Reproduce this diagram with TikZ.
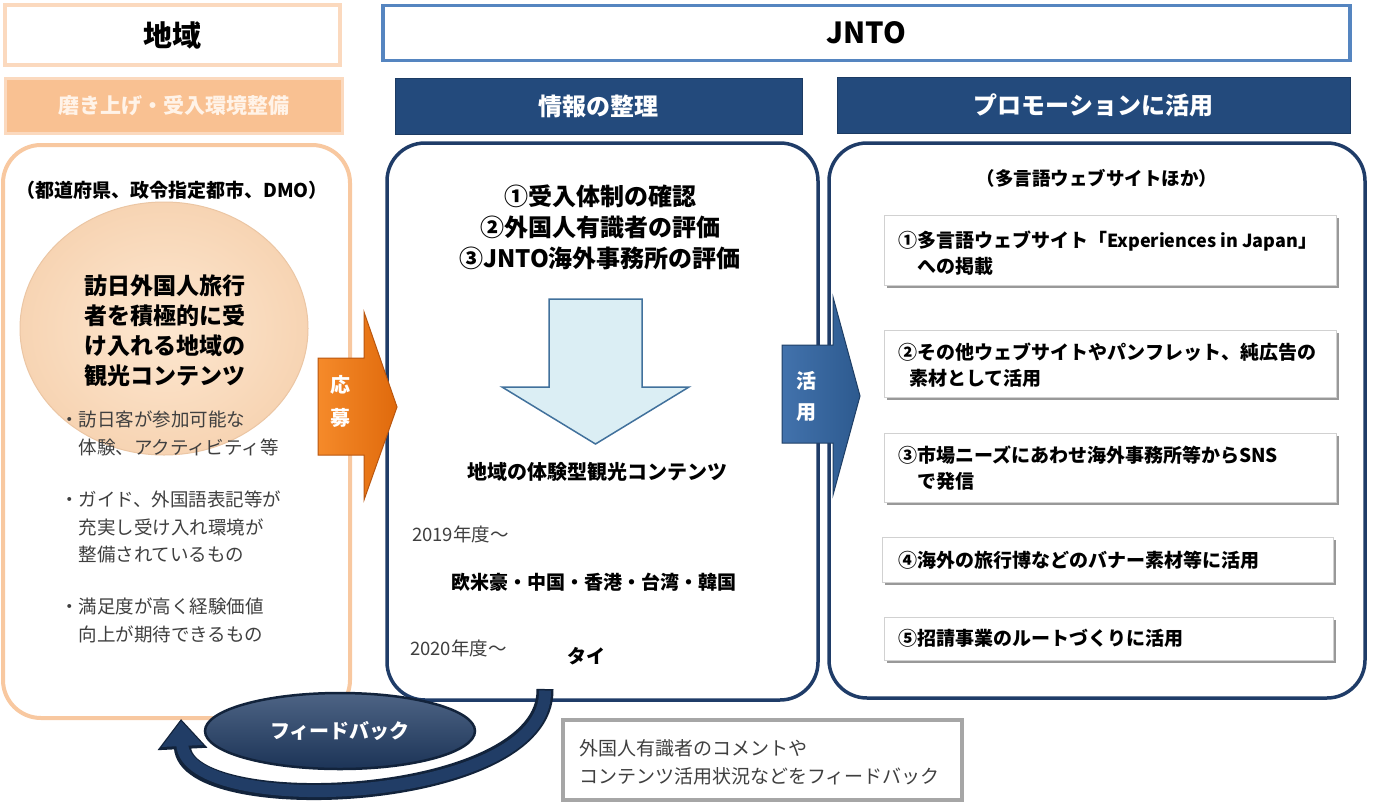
\documentclass[tikz,border=0pt]{standalone}
\usepackage{fontspec}
\setmainfont{Noto Sans CJK JP}
\usetikzlibrary{arrows.meta,shapes.geometric,shadows}
\definecolor{navy}{HTML}{234A7C}
\definecolor{boxnavy}{HTML}{1F3C68}
\definecolor{peach}{HTML}{F8C8A0}
\definecolor{peachlt}{HTML}{FBD9BE}
\definecolor{peachfill}{HTML}{F9C192}
\definecolor{peachtxt}{HTML}{FFF3E8}
\definecolor{circin}{HTML}{FDE7D0}
\definecolor{circout}{HTML}{F7D4B3}
\definecolor{circedge}{HTML}{EBC6A4}
\definecolor{jntoblue}{HTML}{5585C0}
\definecolor{txtgray}{HTML}{3F3F3F}
\definecolor{arrowfill}{HTML}{DBEEF4}
\definecolor{arrowedge}{HTML}{41719C}
\definecolor{orangeA}{HTML}{F58A2A}
\definecolor{orangeB}{HTML}{E06A0C}
\definecolor{orangeE}{HTML}{B9560F}
\definecolor{blueA}{HTML}{4272AC}
\definecolor{blueB}{HTML}{2D5A8F}
\definecolor{blueE}{HTML}{1F3F66}
\definecolor{fbnavy}{HTML}{213D66}
\definecolor{fbdark}{HTML}{12233B}
\definecolor{graybox}{HTML}{A6A6A6}
\newcommand{\fsz}[2]{\fontsize{#1}{#2}\selectfont}
\tikzset{
  txt/.style={inner sep=0pt, outer sep=0pt, align=center},
  ltxt/.style={inner sep=0pt, outer sep=0pt, align=left, anchor=west},
  bigbox/.style={rectangle, rounded corners=38pt, line width=3.5pt, fill=white, inner sep=0pt},
  hdrnavy/.style={rectangle, fill=navy, draw=navy!80!black, line width=0.8pt, text=white, inner sep=0pt, font=\fsz{24}{28}\bfseries},
  itembox/.style={rectangle, fill=white, draw=black!18, line width=1pt, inner sep=0pt,
    drop shadow={shadow xshift=2.5pt, shadow yshift=-2.5pt, fill=black!40, opacity=1}},
  itemtxt/.style={ltxt, font=\fsz{19}{26}\bfseries},
  bullet/.style={ltxt, text=txtgray, font=\fsz{18.5}{27.5}},
}
\begin{document}
\begin{tikzpicture}[x=1pt, y=-1pt]
\useasboundingbox (0,0) rectangle (1373,803);
\fill[white] (0,0) rectangle (1373,803);

% ---------- headers ----------
\node[rectangle, draw=peachlt, line width=4pt, fill=white, minimum width=335pt, minimum height=60pt, inner sep=0pt,
      font=\fsz{29}{32}\bfseries] (chiiki) at (172.5,35) {地域};
\node[rectangle, draw=jntoblue, line width=3.5pt, fill=white, minimum width=967pt, minimum height=55pt, inner sep=0pt,
      font=\fsz{29}{32}\bfseries] (jnto) at (866.5,33) {JNTO};
\node[rectangle, fill=peachfill, draw=peachlt, line width=3pt, minimum width=337pt, minimum height=55pt, inner sep=0pt,
      text=peachtxt, font=\fsz{21}{24}\bfseries] (migaki) at (173.5,105.5) {磨き上げ・受入環境整備};
\node[hdrnavy, minimum width=407pt, minimum height=56pt] (seiri) at (598.5,106) {情報の整理};
\node[hdrnavy, minimum width=513pt, minimum height=56pt] (promo) at (1093.5,105) {プロモーションに活用};

% ---------- big boxes ----------
\node[bigbox, draw=peach, line width=4pt, minimum width=347pt, minimum height=573pt] (leftbox) at (176.5,431.5) {};
\node[bigbox, draw=boxnavy, minimum width=431pt, minimum height=557pt] (midbox) at (602.5,421.5) {};
\node[bigbox, draw=boxnavy, minimum width=536pt, minimum height=555pt] (rightbox) at (1097,420.5) {};

% ---------- left column ----------
\node[txt, font=\fsz{19}{22}\bfseries] (dmo) at (172,190) {（都道府県、政令指定都市、DMO）};
\node[ellipse, minimum width=288pt, minimum height=253pt, inner sep=0pt, draw=circedge, line width=1pt,
      inner color=circin, outer color=circout] (circ) at (164,328.5) {};
\node[txt, font=\fsz{23}{30}\bfseries] (circtxt) at (165,331) {訪日外国人旅行\\者を積極的に受\\け入れる地域の\\観光コンテンツ};
\node[bullet] (b1) at (60,433.5) {・訪日客が参加可能な\\\hspace*{1em}体験、アクティビティ等};
\node[bullet] (b2) at (60,527) {・ガイド、外国語表記等が\\\hspace*{1em}充実し受け入れ環境が\\\hspace*{1em}整備されているもの};
\node[bullet] (b3) at (60,620.5) {・満足度が高く経験価値\\\hspace*{1em}向上が期待できるもの};

% ---------- middle column ----------
\node[txt, font=\fsz{24}{31}\bfseries] (checks) at (600,227) {①受入体制の確認\\②外国人有識者の評価\\③JNTO海外事務所の評価};
\draw[fill=arrowfill, draw=arrowedge, line width=1.5pt]
  (549,299) -- (642,299) -- (642,387) -- (689,387) -- (595.5,444) -- (502,387) -- (549,387) -- cycle;
\node[txt, font=\fsz{20}{24}\bfseries] (content) at (597,472) {地域の体験型観光コンテンツ};
\node[ltxt, text=txtgray, font=\fsz{18.5}{22}] (y2019) at (412,534) {2019年度～};
\node[txt, font=\fsz{19}{22}\bfseries] (markets) at (594,582) {欧米豪・中国・香港・台湾・韓国};
\node[ltxt, text=txtgray, font=\fsz{18.5}{22}] (y2020) at (410,648) {2020年度～};
\node[txt, font=\fsz{19}{22}\bfseries] (thai) at (586,656) {タイ};

% ---------- right column ----------
\node[txt, font=\fsz{18.5}{22}\bfseries] (multi) at (1097,178) {（多言語ウェブサイトほか）};
\node[itembox, minimum width=452pt, minimum height=70pt] (it1) at (1110,250) {};
\node[itembox, minimum width=452pt, minimum height=67pt] (it2) at (1110,363.5) {};
\node[itembox, minimum width=452pt, minimum height=69pt] (it3) at (1110,467.5) {};
\node[itembox, minimum width=451pt, minimum height=45pt] (it4) at (1107.5,559.5) {};
\node[itembox, minimum width=449pt, minimum height=43pt] (it5) at (1108.5,638.5) {};
\node[itemtxt] (t1) at (898,253) {①多言語ウェブサイト「{\fsz{18}{26}\bfseries Experiences in Japan}」\\\hspace*{1em}への掲載};
\node[itemtxt] (t2) at (898,365) {②その他ウェブサイトやパンフレット、純広告の\\\hspace*{0.6em}素材として活用};
\node[itemtxt] (t3) at (898,468.5) {③市場ニーズにあわせ海外事務所等からSNS\\\hspace*{1em}で発信};
\node[itemtxt] (t4) at (898,560) {④海外の旅行博などのバナー素材等に活用};
\node[itemtxt] (t5) at (898,638) {⑤招請事業のルートづくりに活用};

% ---------- block arrows ----------
\draw[draw=orangeE, line width=1pt, left color=orangeA, right color=orangeB]
  (318,358) -- (364,358) -- (364,312) -- (397,407) -- (364,500) -- (364,455) -- (318,455) -- cycle;
\node[txt, text=white, font=\fsz{20}{33}\bfseries] (oubo) at (340,401.5) {応\\募};
\draw[draw=blueE, line width=1pt, left color=blueA, right color=blueB]
  (782,345) -- (833,345) -- (833,297) -- (860,396) -- (833,495) -- (833,443) -- (782,443) -- cycle;
\node[txt, text=white, font=\fsz{20}{31}\bfseries] (katsuyo) at (806,396) {活\\用};

% ---------- feedback ----------
\coordinate (fbstart) at (545,689);
\coordinate (fbend) at (181,719);
\draw[fbdark, line width=17pt, -{Triangle[length=30pt, width=48pt]}]
  (fbstart) .. controls (548,805) and (186,820) .. (fbend);
\draw[fbnavy, line width=12pt, -{Triangle[length=25pt, width=40pt]}, shorten >=2pt]
  ([yshift=-1.5pt]fbstart) .. controls (548,805) and (186,820) .. (fbend);
\node[ellipse, minimum width=270pt, minimum height=76pt, inner sep=0pt, draw=fbdark, line width=2.5pt,
      top color=fbnavy!80!white, bottom color=fbnavy!85!black, text=white, font=\fsz{20}{24}\bfseries] (fb) at (340,731) {フィードバック};
\node[rectangle, draw=graybox, line width=4pt, fill=white, minimum width=399pt, minimum height=80pt, inner sep=0pt] (note) at (762.5,760) {};
\node[ltxt, text=txtgray, font=\fsz{19}{28}] (notetxt) at (579,762) {外国人有識者のコメントや\\コンテンツ活用状況などをフィードバック};
\end{tikzpicture}
\end{document}
